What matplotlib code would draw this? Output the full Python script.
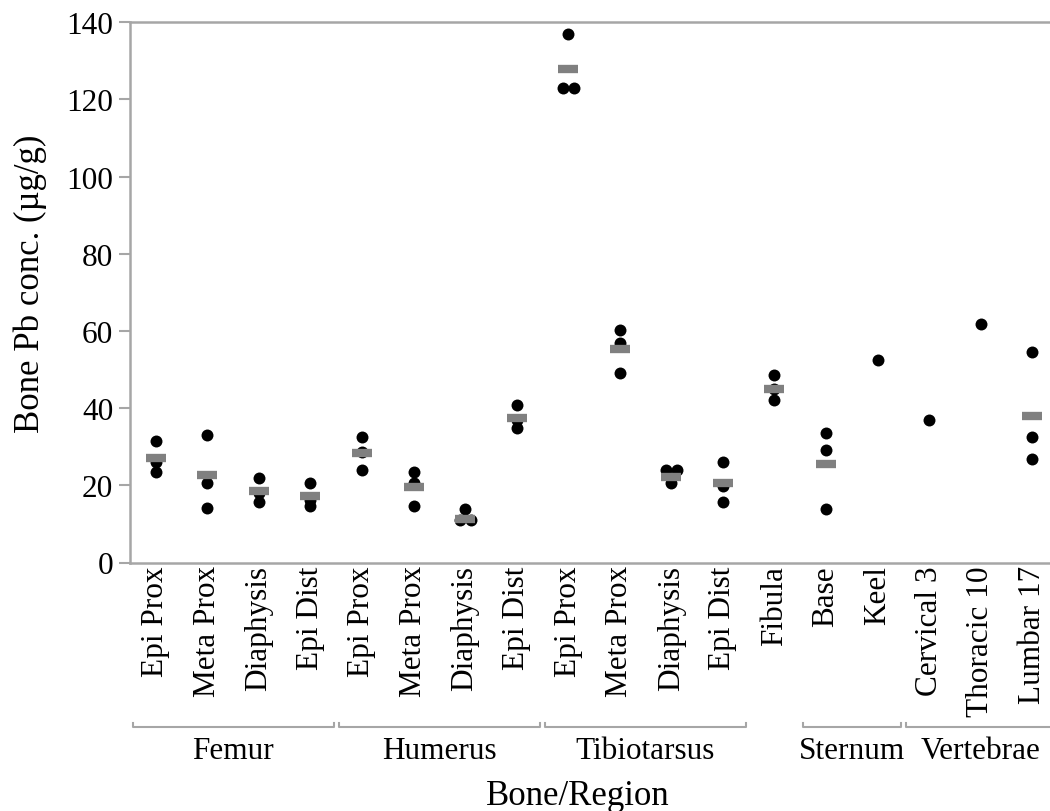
import numpy as np
import matplotlib
matplotlib.use("Agg")
import matplotlib.pyplot as plt
import matplotlib.transforms as mtransforms

# --- data -------------------------------------------------------------------
regions = ["Epi Prox", "Meta Prox", "Diaphysis", "Epi Dist",
           "Epi Prox", "Meta Prox", "Diaphysis", "Epi Dist",
           "Epi Prox", "Meta Prox", "Diaphysis", "Epi Dist",
           "Fibula", "Base", "Keel", "Cervical 3", "Thoracic 10", "Lumbar 17"]

pb_values = [
    [31.6, 26.0, 23.4],
    [33.1, 20.6, 14.0],
    [21.9, 18.0, 15.7],
    [20.7, 16.3, 14.6],
    [32.5, 28.7, 23.9],
    [23.5, 20.5, 14.6],
    [13.9, 10.9, 10.9],
    [40.9, 37.0, 34.8],
    [136.9, 123.1, 123.1],
    [60.3, 56.8, 49.1],
    [23.9, 23.9, 20.7],
    [26.0, 19.8, 15.7],
    [48.5, 45.0, 42.1],
    [33.5, 29.1, 13.9],
    [52.5],
    [36.9],
    [61.7],
    [54.5, 32.4, 26.8],
]

# region means (gray bars); None where only one sample
pb_means = [27.0, 22.6, 18.5, 17.2, 28.4, 19.5, 11.4, 37.5,
            127.8, 55.3, 22.1, 20.6, 45.0, 25.5, None, None, None, 38.0]

bones = ["Femur", "Humerus", "Tibiotarsus", "Sternum", "Vertebrae"]
bone_span = [(0, 3), (4, 7), (8, 11), (13, 14), (15, 17)]
# -----------------------------------------------------------------------------

serif = ["Liberation Serif", "DejaVu Serif"]
plt.rcParams["font.family"] = serif
spine_col = "#a6a6a6"

fig = plt.figure(figsize=(10.5, 8.12), dpi=100)
W, H = 1050, 812
x0, x1, y0, y1 = 130, 1058, 23.3, 563.5
ax = fig.add_axes([x0 / W, 1 - y1 / H, (x1 - x0) / W, (y1 - y0) / H])

# dots: spread identical values side by side
for i, vals in enumerate(pb_values):
    vals = np.asarray(vals)
    xs = np.full(len(vals), float(i))
    used = np.zeros(len(vals), bool)
    for j in range(len(vals)):
        if used[j]:
            continue
        grp = [k for k in range(len(vals)) if not used[k] and abs(vals[k] - vals[j]) < 1.0]
        for n, k in enumerate(grp):
            xs[k] = i + (n - (len(grp) - 1) / 2) * 0.21
            used[k] = True
    ax.plot(xs, vals, "o", color="black", ms=8.6, mew=0, zorder=3)

for i, m in enumerate(pb_means):
    if m is not None:
        ax.plot([i], [m], marker="_", color="#808080", ms=13.8, mew=6.0,
                zorder=4, solid_capstyle="butt")

ax.set_xlim(-0.5, len(regions) - 0.5)
ax.set_ylim(0, 140)
ax.set_yticks(np.arange(0, 141, 20))
ax.set_xticks(range(len(regions)))
ax.set_xticklabels(regions, rotation=90, va="top", ha="center")

ax.tick_params(axis="y", length=8, width=1.5, color=spine_col, pad=4,
               labelsize=22.5, labelcolor="black")
ax.tick_params(axis="x", length=0, pad=2, labelsize=22.5, labelcolor="black")
for s in ax.spines.values():
    s.set_color(spine_col)
    s.set_linewidth(1.8)

# bone group brackets under the region labels
trans = mtransforms.blended_transform_factory(ax.transData, ax.transAxes)
yb = (y1 - 728) / (y1 - y0)
dy = 4 / (y1 - y0)
for name, (a, b) in zip(bones, bone_span):
    xa, xb = a - 0.45, b + 0.45
    ax.plot([xa, xa, xb, xb], [yb + dy, yb, yb, yb + dy], color=spine_col,
            lw=1.5, transform=trans, clip_on=False)
    ax.text((xa + xb) / 2, (y1 - 759) / (y1 - y0), name, transform=trans,
            ha="center", va="baseline", fontsize=22.5)

fig.text(578 / W, 1 - 805 / H, "Bone/Region", ha="center", va="baseline",
         fontsize=25)
fig.text(30 / W, 1 - 284 / H, "Bone Pb conc. (\u00b5g/g)", rotation=90,
         ha="center", va="center", fontsize=25)

fig.savefig("out.png", dpi=100)
